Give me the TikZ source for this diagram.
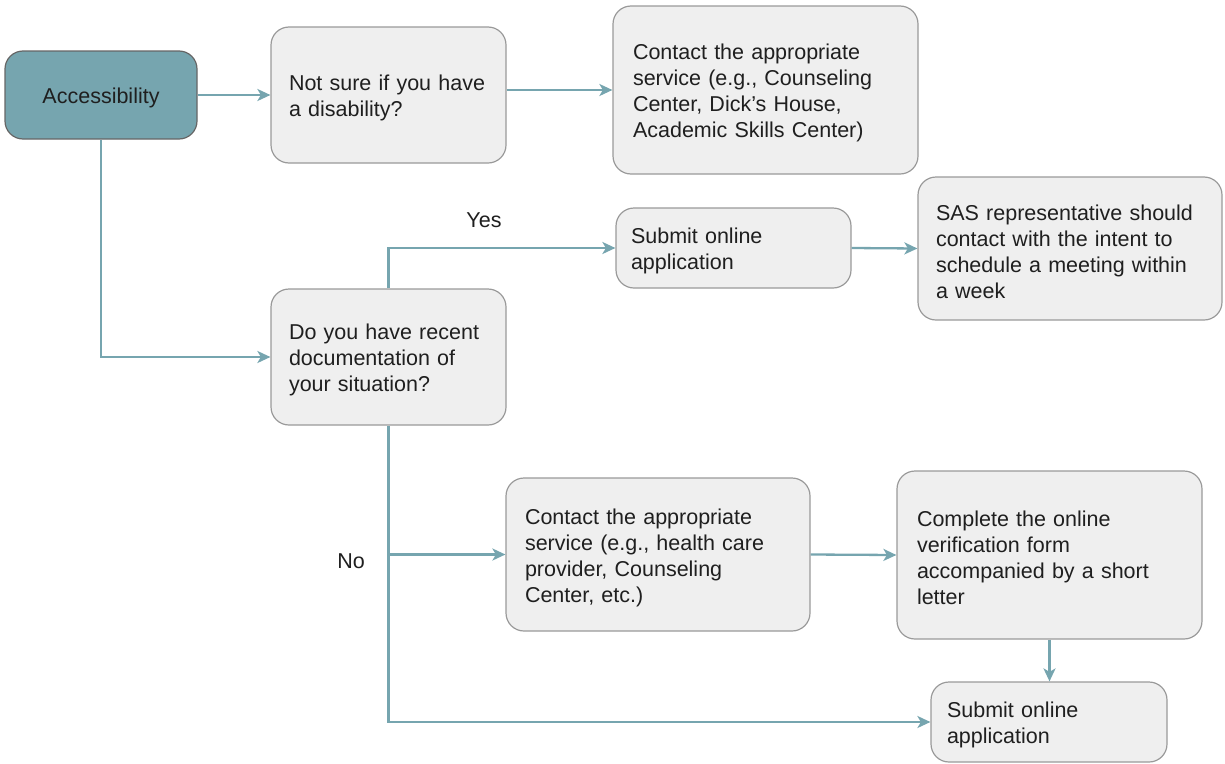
\documentclass[tikz,border=0pt]{standalone}
\usepackage{fontspec}
\setmainfont{Liberation Sans}
\usetikzlibrary{arrows.meta}
\definecolor{teal1}{HTML}{76A5AF}
\definecolor{boxfill}{HTML}{EFEFEF}
\definecolor{boxline}{HTML}{9A9A9A}
\definecolor{txt}{HTML}{1F1F1F}
\begin{document}
\begin{tikzpicture}[x=1pt,y=-1pt,
  box/.style={draw=boxline, line width=1.2pt, fill=boxfill, rounded corners=18pt,
    align=left, text=txt, font=\fontsize{21.5}{26}\selectfont, inner ysep=0pt,
    execute at begin node={\rule{0pt}{22pt}}},
  conn/.style={draw=teal1, line width=2.3pt, -{Stealth[length=13pt,width=12pt,inset=3.5pt]}},
  lbl/.style={text=txt, font=\fontsize{21.5}{26}\selectfont}]
\useasboundingbox (0,0) rectangle (1225,763);
\node[draw=gray!80!black, line width=1.2pt, rounded corners=18pt, fill=teal1, text=txt, font=\fontsize{21.5}{26}\selectfont, minimum width=192pt, minimum height=88pt, inner sep=0pt] (acc) at (101,95) {\raisebox{-8pt}[0pt][0pt]{Accessibility}};
\node[box, text width=199pt, inner xsep=18pt, minimum height=136pt] (ns) at (388.5,95) {Not sure if you have\\a disability?};
\node[box, text width=265pt, inner xsep=20pt, minimum height=168pt] (ct) at (765.5,90) {Contact the appropriate\\service (e.g., Counseling\\Center, Dick’s House,\\Academic Skills Center)};
\node[box, text width=205pt, inner xsep=15pt, minimum height=80pt] (sub1) at (733.5,248) {Submit online\\application};
\node[box, text width=268pt, inner xsep=18pt, minimum height=143pt] (sas) at (1070,248.5) {SAS representative should\\contact with the intent to\\schedule a meeting within\\a week};
\node[box, text width=199pt, inner xsep=18pt, minimum height=136pt] (doc) at (388.5,357) {Do you have recent\\documentation of\\your situation?};
\node[box, text width=266pt, inner xsep=19pt, minimum height=153pt] (cb) at (658,554.5) {Contact the appropriate\\service (e.g., health care\\provider, Counseling\\Center, etc.)};
\node[box, text width=265pt, inner xsep=20pt, minimum height=168pt] (cmp) at (1049.5,555) {Complete the online\\verification form\\accompanied by a short\\letter};
\node[box, text width=204pt, inner xsep=16pt, minimum height=80pt] (sub2) at (1049,722) {Submit online\\application};
\node[lbl] (yes) at (484,220) {Yes};
\node[lbl] (no) at (351,561) {No};
\coordinate (br) at (doc.south |- cb.west);
\draw[conn] (acc.east) -- (ns.west);
\draw[conn] (ns.east |- ct.west) -- (ct.west);
\draw[conn] (acc.south) |- (doc.west);
\draw[conn] (doc.north) |- (sub1.west);
\draw[conn] (sub1.east) -- (sas.west);
\draw[conn] (doc.south) |- (sub2.west);
\draw[conn] (br) -- (cb.west);
\draw[conn] (cb.east) -- (cmp.west);
\draw[conn] (cmp.south) -- (cmp.south |- sub2.north);
\end{tikzpicture}
\end{document}
